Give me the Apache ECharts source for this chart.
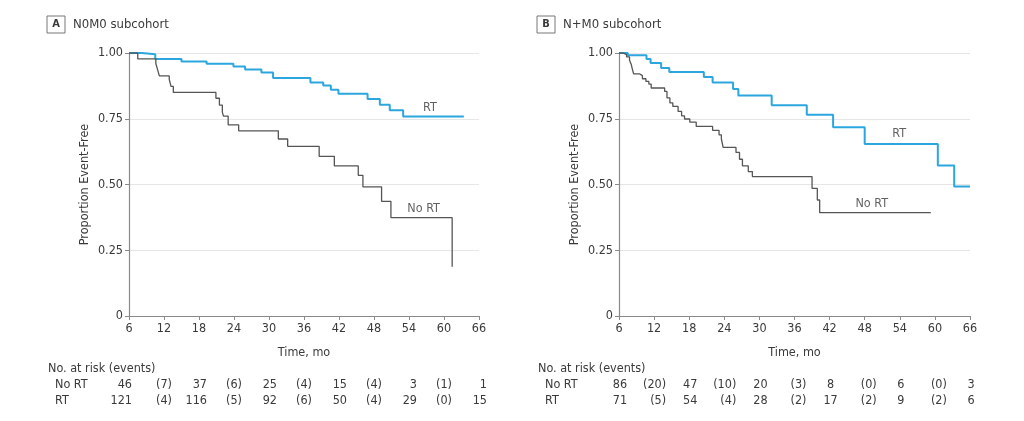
<!DOCTYPE html>
<html><head><meta charset="utf-8">
<script src="https://cdn.jsdelivr.net/npm/echarts@6/dist/echarts.min.js"></script>
<style>html,body{margin:0;padding:0;background:#fff}#c{width:1024px;height:421px}</style>
</head><body><div id="c"></div>
<script>
// ---- Data ----
const xTicks = [6, 12, 18, 24, 30, 36, 42, 48, 54, 60, 66];
const yTicks = [0, 0.25, 0.5, 0.75, 1];
const riskMonths = [6, 18, 30, 42, 54, 66];
const eventMonths = [12, 24, 36, 48, 60];

// Panel A (N0M0)
const aNoRtTime = [6, 7.5, 10.6, 10.9, 11.2, 12.9, 13.2, 13.6, 20.9, 21.5, 22.0, 22.2, 23.0, 24.8, 31.6, 33.2, 38.6, 41.2, 45.3, 46.1, 49.3, 50.9, 61.4];
const aNoRtSurv = [1, 0.978, 0.96, 0.937, 0.913, 0.90, 0.873, 0.85, 0.828, 0.802, 0.775, 0.76, 0.727, 0.704, 0.673, 0.645, 0.607, 0.571, 0.535, 0.491, 0.436, 0.374, 0.187];
const aRtTime = [6, 8.2, 10.5, 15.0, 19.3, 23.9, 25.9, 28.7, 30.7, 37.1, 39.3, 40.6, 41.9, 46.9, 49.0, 50.7, 53.0, 63.4];
const aRtSurv = [1, 0.995, 0.977, 0.968, 0.959, 0.949, 0.937, 0.926, 0.905, 0.888, 0.876, 0.86, 0.845, 0.825, 0.803, 0.782, 0.759, 0.759];
const aRiskNoRt = ['46', '37', '25', '15', '3', '1'];
const aEventsNoRt = ['(7)', '(6)', '(4)', '(4)', '(1)'];
const aRiskRt = ['121', '116', '92', '50', '29', '15'];
const aEventsRt = ['(4)', '(5)', '(6)', '(4)', '(0)'];

// Panel B (N+M0)
const bNoRtTime = [6, 6.7, 7.3, 7.8, 8.1, 8.3, 8.5, 9.5, 10.0, 10.6, 11.1, 11.5, 13.8, 14.2, 14.7, 15.2, 16.1, 16.7, 17.2, 18.1, 19.2, 22.0, 23.1, 23.5, 23.8, 26.0, 26.6, 27.1, 28.1, 28.8, 39.0, 39.9, 40.3, 59.3];
const bNoRtSurv = [1, 0.994, 0.985, 0.972, 0.956, 0.937, 0.921, 0.914, 0.902, 0.892, 0.882, 0.867, 0.854, 0.829, 0.81, 0.797, 0.778, 0.761, 0.749, 0.737, 0.721, 0.706, 0.689, 0.673, 0.641, 0.622, 0.596, 0.571, 0.549, 0.53, 0.485, 0.441, 0.393, 0.393];
const bRtTime = [6, 7.5, 10.7, 11.4, 13.2, 14.6, 20.5, 22.0, 25.5, 26.4, 32.1, 38.1, 42.6, 48.0, 60.5, 63.3, 66];
const bRtSurv = [1, 0.991, 0.977, 0.962, 0.943, 0.928, 0.909, 0.888, 0.863, 0.838, 0.801, 0.765, 0.718, 0.654, 0.572, 0.492, 0.492];
const bRiskNoRt = ['86', '47', '20', '8', '6', '3'];
const bEventsNoRt = ['(20)', '(10)', '(3)', '(0)', '(0)'];
const bRiskRt = ['71', '54', '28', '17', '9', '6'];
const bEventsRt = ['(5)', '(4)', '(2)', '(2)', '(2)'];

// curve label anchors [month, proportion]
const aLabelRt = [57.6, 0.79];
const aLabelNoRt = [56.5, 0.407];
const bLabelRt = [53.9, 0.692];
const bLabelNoRt = [49.2, 0.426];

// ---- Chart ----
const FONT = '"DejaVu Sans Condensed", "Liberation Sans Narrow", sans-serif';
const TXT = '#3a3a3a';
const BLUE = '#2ba6de';
const GREY = '#555555';
const zip = (t, s) => t.map((v, i) => [v, s[i]]);
const yFmt = v => v === 0 ? '0' : v.toFixed(2);

function xAxis(idx) {
  return {
    gridIndex: idx, type: 'value', min: 6, max: 66, interval: 6,
    name: 'Time, mo', nameLocation: 'middle', nameGap: 30,
    nameTextStyle: { fontFamily: FONT, fontSize: 12.5, color: TXT },
    axisLine: { lineStyle: { color: '#8a8a8a', width: 1.2 } },
    axisTick: { show: true, length: 4, lineStyle: { color: '#8a8a8a' } },
    axisLabel: { fontFamily: FONT, fontSize: 12.5, color: TXT, margin: 6 },
    splitLine: { show: false }
  };
}
function yAxis(idx) {
  return {
    gridIndex: idx, type: 'value', min: 0, max: 1, interval: 0.25,
    name: 'Proportion Event-Free', nameLocation: 'middle', nameRotate: 90, nameGap: 38,
    nameTextStyle: { fontFamily: FONT, fontSize: 12.5, color: TXT },
    axisLine: { show: true, lineStyle: { color: '#8a8a8a', width: 1.2 } },
    axisTick: { show: true, length: 4, lineStyle: { color: '#8a8a8a' } },
    axisLabel: { fontFamily: FONT, fontSize: 12.5, color: TXT, margin: 6, formatter: yFmt },
    splitLine: { show: true, lineStyle: { color: '#e6e6e6', width: 1 } }
  };
}
function curve(idx, data, color, w) {
  return { type: 'line', xAxisIndex: idx, yAxisIndex: idx, step: 'end', data: data,
    symbol: 'none', lineStyle: { color: color, width: w }, silent: true, z: color === BLUE ? 3 : 4 };
}
function labelSeries(idx, pts, texts) {
  return { type: 'scatter', xAxisIndex: idx, yAxisIndex: idx, symbolSize: 0, silent: true,
    data: pts.map((p, i) => ({ value: p, label: { show: true, formatter: texts[i], position: 'inside',
      fontFamily: FONT, fontSize: 12.5, color: TXT } })) };
}

const chart = echarts.init(document.getElementById('c'), null, { renderer: 'canvas' });
chart.setOption({
  animation: false,
  grid: [
    { left: 129, top: 53, width: 350, height: 263 },
    { left: 619, top: 53, width: 351, height: 263 }
  ],
  xAxis: [xAxis(0), xAxis(1)],
  yAxis: [yAxis(0), yAxis(1)],
  series: [
    curve(0, zip(aRtTime, aRtSurv), BLUE, 2),
    curve(0, zip(aNoRtTime, aNoRtSurv), GREY, 1.3),
    curve(1, zip(bRtTime, bRtSurv), BLUE, 2),
    curve(1, zip(bNoRtTime, bNoRtSurv), GREY, 1.3),
    labelSeries(0, [aLabelRt, aLabelNoRt], ['RT', 'No RT']),
    labelSeries(1, [bLabelRt, bLabelNoRt], ['RT', 'No RT'])
  ]
});

// ---- Titles and risk tables ----
const g = [];
function panelTitle(x, letter, title) {
  g.push({ type: 'rect', shape: { x: x, y: 16, width: 18, height: 17 }, style: { fill: '#fff', stroke: '#777', lineWidth: 1 } });
  g.push({ type: 'text', x: x + 9, y: 24.5, style: { text: letter, fontFamily: FONT, fontSize: 11, fontWeight: 'bold', fill: TXT, align: 'center', verticalAlign: 'middle' } });
  g.push({ type: 'text', x: x + 26, y: 24.5, style: { text: title, fontFamily: FONT, fontSize: 13, fill: TXT, align: 'left', verticalAlign: 'middle' } });
}
function txt(x, y, s, align) {
  g.push({ type: 'text', x: x, y: y, style: { text: s, fontFamily: FONT, fontSize: 12.5, fill: TXT, align: align || 'left', verticalAlign: 'middle' } });
}
function table(idx, leftX, noRt, noRtEv, rt, rtEv, numAlign, numOff, evAlign, evOff) {
  txt(leftX, 369, 'No. at risk (events)');
  txt(leftX + 7, 385, 'No RT');
  txt(leftX + 7, 401, 'RT');
  riskMonths.forEach((m, i) => {
    const px = chart.convertToPixel({ xAxisIndex: idx }, m);
    const off = numOff(i);
    txt(px + off, 385, noRt[i], numAlign);
    txt(px + off, 401, rt[i], numAlign);
  });
  eventMonths.forEach((m, i) => {
    const px = chart.convertToPixel({ xAxisIndex: idx }, m);
    txt(px + evOff, 385, noRtEv[i], evAlign);
    txt(px + evOff, 401, rtEv[i], evAlign);
  });
}
panelTitle(47, 'A', 'N0M0 subcohort');
panelTitle(537, 'B', 'N+M0 subcohort');
table(0, 48, aRiskNoRt, aEventsNoRt, aRiskRt, aEventsRt, 'right', i => (i === 0 ? 3 : 8), 'center', 0);
table(1, 538, bRiskNoRt, bEventsNoRt, bRiskRt, bEventsRt, 'center', () => 1, 'right', 12);
chart.setOption({ graphic: g });
</script></body></html>
